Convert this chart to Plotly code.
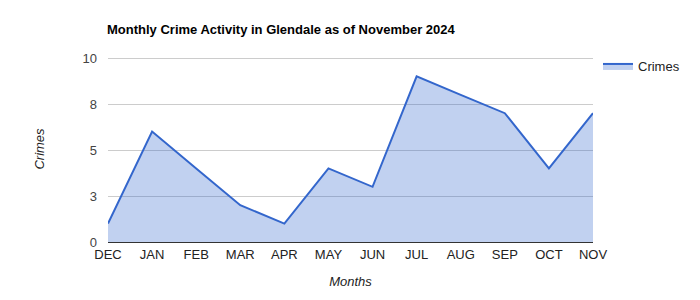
import plotly.graph_objects as go

months = ["DEC", "JAN", "FEB", "MAR", "APR", "MAY", "JUN", "JUL", "AUG", "SEP", "OCT", "NOV"]
crimes = [1, 6, 4, 2, 1, 4, 3, 9, 8, 7, 4, 7]
y_tick_vals = [0, 2.5, 5, 7.5, 10]
y_tick_text = ["0", "3", "5", "8", "10"]

font = "Liberation Sans, Arial, sans-serif"

fig = go.Figure()
fig.add_trace(go.Scatter(
    x=months, y=crimes, name="Crimes", mode="lines",
    line=dict(color="#3366cc", width=2),
    fill="tozeroy", fillcolor="rgba(51,102,204,0.3)",
))

fig.update_layout(
    width=700, height=300,
    margin=dict(l=108, r=107, t=56, b=58, autoexpand=False),
    paper_bgcolor="white", plot_bgcolor="white",
    font=dict(family=font, size=13, color="#222222"),
    title=dict(text="<b>Monthly Crime Activity in Glendale as of November 2024</b>",
               x=107/700, xanchor="left", y=1-29/300, yanchor="middle",
               font=dict(family=font, size=13, color="#000000")),
    showlegend=True,
    legend=dict(x=598/700, xanchor="left", y=1-51/300, yanchor="top",
                xref="container", yref="container",
                font=dict(family=font, size=13, color="#222222"),
                bgcolor="rgba(0,0,0,0)", itemwidth=30),
    xaxis=dict(
        type="category", range=[0, len(months) - 1],
        showgrid=False, zeroline=False,
        showline=True, linecolor="#333333", linewidth=1,
        ticks="", tickfont=dict(family=font, size=13, color="#222222"),
        title=dict(text="<i>Months</i>", standoff=16,
                   font=dict(family=font, size=13, color="#222222")),
    ),
    yaxis=dict(
        range=[0, 10 + 2 / 18.4], tickvals=y_tick_vals, ticktext=y_tick_text,
        showgrid=True, gridcolor="#cccccc", gridwidth=1, zeroline=False,
        ticks="", ticklabelstandoff=10,
        tickfont=dict(family=font, size=13, color="#444444"),
        title=dict(text="<i>Crimes</i>", standoff=34,
                   font=dict(family=font, size=13, color="#222222")),
    ),
)

fig.write_html("out.html")
